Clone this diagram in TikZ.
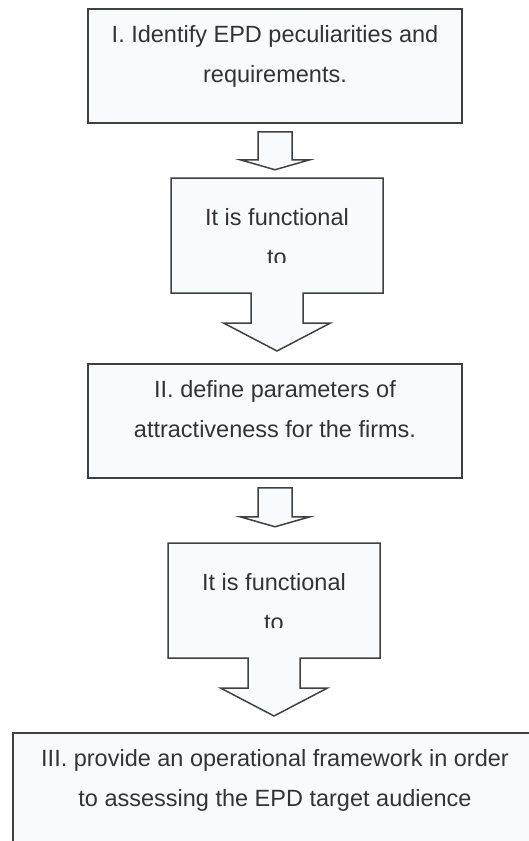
\documentclass[tikz,border=0pt]{standalone}
\usepackage{fontspec}
\setmainfont{Liberation Sans}
\usetikzlibrary{positioning, calc}

\definecolor{boxfill}{RGB}{248,251,253}
\definecolor{boxline}{RGB}{64,64,64}
\definecolor{boxtext}{RGB}{51,51,51}

\begin{document}
\begin{tikzpicture}[
    x=1pt, y=1pt,
    stage/.style={rectangle, draw=boxline, fill=boxfill, line width=1.5pt, minimum width=374pt, minimum height=114pt, inner sep=0pt},
    blockarrow/.style={draw=boxline, fill=boxfill, line width=1.5pt, line join=miter},
    stagetext/.style={align=center, inner sep=0pt, text=boxtext, font=\fontsize{23.5}{40}\selectfont}
]
\useasboundingbox (0,0) rectangle (529,-841);
\clip (0,0) rectangle (529,-841);

% Stages
\node[stage] (box1) at (275,-66) {};
\node[stage] (box3) at (275,-421) {};
\node[stage, minimum width=524pt, minimum height=120pt] (box4) at (275,-793) {};

% Stage texts
\node[stagetext, below=17pt of box1.north] (box1_text) {I. Identify EPD peculiarities and\\requirements.};
\node[stagetext, below=17pt of box3.north] (box3_text) {II. define parameters of\\attractiveness for the firms.};
\node[stagetext, below=17pt of box4.north] (box4_text) {III. provide an operational framework in order\\to assessing the EPD target audience};

% Small arrows
\draw[blockarrow] ($(box1.south)+(-17,-8)$) -- ++(34,0) -- ++(0,-28) -- ++(18,0) -- ($(box1.south)+(0,-46)$) -- ++(-35,10) -- ++(18,0) -- cycle;
\draw[blockarrow] ($(box3.south)+(-17,-9)$) -- ++(34,0) -- ++(0,-29) -- ++(18,0) -- ($(box3.south)+(0,-48)$) -- ++(-35,10) -- ++(18,0) -- cycle;

% Callouts
\coordinate (call1) at (277,-178);
\coordinate (call2) at (274,-543);
\foreach \c in {call1, call2} {
  \draw[blockarrow] (\c) ++(-106,0) -- ++(212,0) -- ++(0,-115) -- ++(-80,0) -- ++(0,-30) -- ++(27.5,0)
    -- ++(-53.5,-28) -- ++(-53.5,28) -- ++(27.5,0) -- ++(0,30) -- ++(-80,0) -- cycle;
  \begin{scope}
    \clip ($(\c)+(-106,0)$) rectangle ($(\c)+(106,-84)$);
    \node[stagetext, below=30pt of \c] (\c_text) {It is functional\\to};
  \end{scope}
}

\end{tikzpicture}
\end{document}
